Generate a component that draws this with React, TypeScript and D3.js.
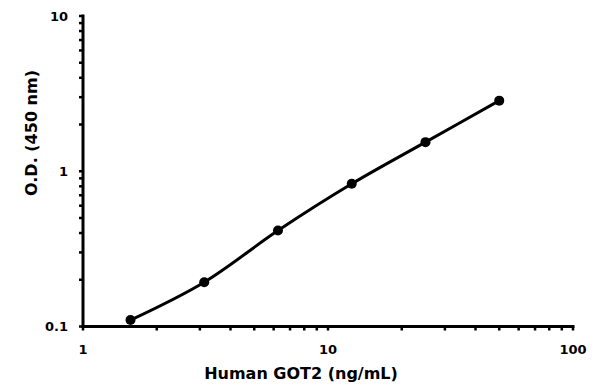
import React from "react";
import * as d3 from "d3";

const concentrations = [1.5625, 3.125, 6.25, 12.5, 25, 50];
const odValues = [0.11, 0.193, 0.415, 0.83, 1.54, 2.85];
const xTickValues = [1, 10, 100];
const xTickLabels = ["1", "10", "100"];
const yTickValues = [0.1, 1, 10];
const yTickLabels = ["0.1", "1", "10"];
const xTitle = "Human GOT2 (ng/mL)";
const yTitle = "O.D. (450 nm)";

function minorTicks(lo: number, hi: number): number[] {
  const out: number[] = [];
  for (let d = lo; d < hi; d *= 10) {
    for (let k = 1; k <= 10; k++) out.push(d * k);
  }
  return Array.from(new Set(out));
}

export default function App() {
  const W = 600, H = 386;
  const x = d3.scaleLog().domain([1, 100]).range([83, 573]);
  const y = d3.scaleLog().domain([0.1, 10]).range([326.5, 16]);
  const font = "'Century Gothic', 'URW Gothic', 'DejaVu Sans', sans-serif";
  const line = d3
    .line<number>()
    .x((_, i) => x(concentrations[i]))
    .y((d) => y(d))
    .curve(d3.curveCatmullRom.alpha(0.5));
  const xMinor = minorTicks(1, 100);
  const yMinor = minorTicks(0.1, 10);
  return (
    <svg
      width={W}
      height={H}
      style={{ position: "absolute", left: 0, top: 0, background: "#fff" }}
    >
      {xMinor.map((v, i) => (
        <line key={"xm" + i} x1={x(v)} x2={x(v)} y1={y(0.1)} y2={y(0.1) + 4} stroke="#000" strokeWidth={2.5} />
      ))}
      {yMinor.map((v, i) => (
        <line key={"ym" + i} x1={x(1) - 4} x2={x(1)} y1={y(v)} y2={y(v)} stroke="#000" strokeWidth={2.5} />
      ))}
      <line x1={x(1)} x2={x(100)} y1={y(0.1)} y2={y(0.1)} stroke="#000" strokeWidth={3} strokeLinecap="square" />
      <line x1={x(1)} x2={x(1)} y1={y(0.1)} y2={y(10)} stroke="#000" strokeWidth={3} strokeLinecap="square" />
      {xTickValues.map((v, i) => (
        <text key={"xt" + i} x={x(v)} y={354} textAnchor="middle" fontFamily={font} fontSize={13} fontWeight="bold" fill="#000">
          {xTickLabels[i]}
        </text>
      ))}
      {yTickValues.map((v, i) => (
        <text key={"yt" + i} x={68} y={y(v) + 4.5} textAnchor="end" fontFamily={font} fontSize={13} fontWeight="bold" fill="#000">
          {yTickLabels[i]}
        </text>
      ))}
      <text x={301} y={378.5} textAnchor="middle" fontFamily={font} fontSize={16} fontWeight="bold" fill="#000">
        {xTitle}
      </text>
      <text
        transform={`translate(37,133) rotate(-90)`}
        textAnchor="middle"
        fontFamily={font}
        fontSize={16}
        fontWeight="bold"
        fill="#000"
      >
        {yTitle}
      </text>
      <path d={line(odValues) || ""} fill="none" stroke="#000" strokeWidth={3} strokeLinejoin="round" />
      {odValues.map((v, i) => (
        <circle key={"p" + i} cx={x(concentrations[i])} cy={y(v)} r={5} fill="#000" />
      ))}
    </svg>
  );
}
